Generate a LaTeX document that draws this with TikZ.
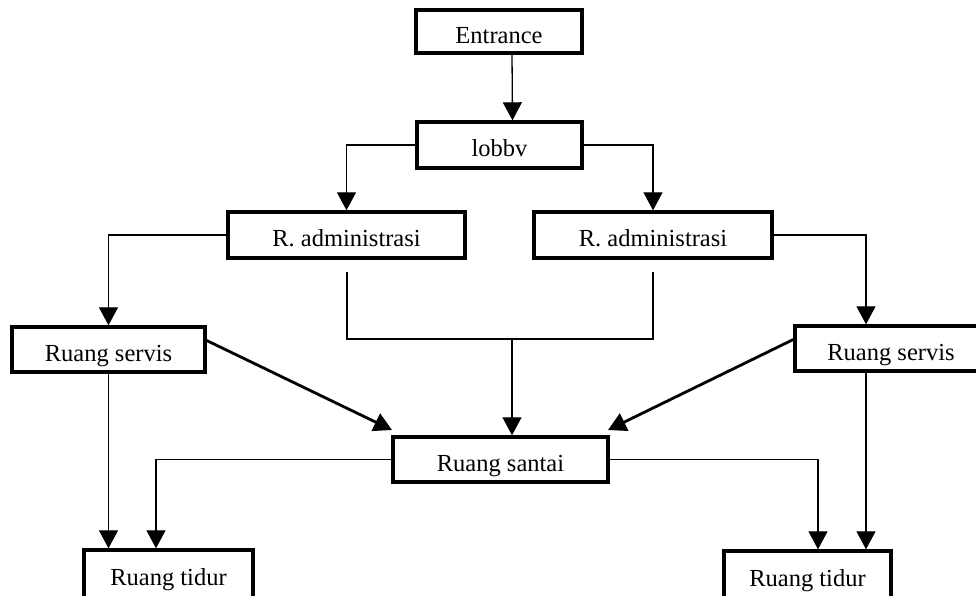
\documentclass[tikz,border=0pt]{standalone}
\usepackage{fontspec}
\setmainfont{Liberation Serif}
\usetikzlibrary{arrows.meta,calc}

\begin{document}
\begin{tikzpicture}[x=1pt,y=-1pt,
  room/.style={draw, line width=3.4pt, rectangle, inner sep=0pt,
    text height=23pt, text depth=0pt,
    font=\fontsize{24.5}{28}\selectfont},
  conn/.style={line width=1.3pt, -{Triangle[width=19pt,length=18pt]}},
  plain/.style={line width=1.3pt},
  diag/.style={line width=2.8pt, -{Triangle[width=19pt,length=18pt]}}]

\useasboundingbox (0,0) rectangle (976,595);

% rooms
\node[room, minimum width=166pt, minimum height=43pt] (entrance) at (499,31.5) {Entrance};
\node[room, minimum width=165pt, minimum height=46pt] (lobby) at (499.5,145) {lobbv};
\node[room, minimum width=237pt, minimum height=46pt] (adminL) at (346.5,235) {R. administrasi};
\node[room, minimum width=238pt, minimum height=46pt] (adminR) at (653,235) {R. administrasi};
\node[room, minimum width=193pt, minimum height=45pt] (servisL) at (108.5,349.5) {Ruang servis};
\node[room, minimum width=192pt, minimum height=45pt] (servisR) at (891,348.5) {Ruang servis};
\node[room, minimum width=215pt, minimum height=45pt] (santai) at (500.5,459.5) {Ruang santai};
\node[room, minimum width=169pt, minimum height=48pt] (tidurL) at (168.5,574) {Ruang tidur};
\node[room, minimum width=167pt, minimum height=48pt] (tidurR) at (807.5,575) {Ruang tidur};

% entrance to lobby to administration
\draw[conn] ([xshift=13pt]entrance.south) -- ([xshift=13pt]lobby.north);
\draw[conn] (lobby.west) -| (adminL.north);
\draw[conn] (lobby.east) -| (adminR.north);

% administration to service rooms
\draw[conn] (adminL.west) -| (servisL.north);
\draw[conn] (adminR.east) -| ([xshift=-25pt]servisR.north);

% both administration rooms merge into the lounge
\coordinate (jl) at (347,272);
\coordinate (jr) at (653,272);
\coordinate (jm) at (512,339);
\draw[plain] (jl) |- (jm) -| (jr);
\draw[conn] (jm) -- (jm |- santai.north);

% service rooms to the lounge
\coordinate (tipL) at (392,430);
\coordinate (tipR) at (608,430);
\draw[diag] ($(servisL.east)+(0,-9)$) -- (tipL);
\draw[diag] ($(servisR.west)+(0,-9)$) -- (tipR);

% lounge and service rooms to bedrooms
\draw[conn] (santai.west) -| ([xshift=-12.5pt]tidurL.north);
\draw[conn] (santai.east) -| ([xshift=10.5pt]tidurR.north);
\draw[conn] (servisL.south) -- (servisL.south |- tidurL.north);
\draw[conn] ([xshift=-25pt]servisR.south) -- ([xshift=-25pt]servisR.south |- tidurR.north);

\end{tikzpicture}
\end{document}
